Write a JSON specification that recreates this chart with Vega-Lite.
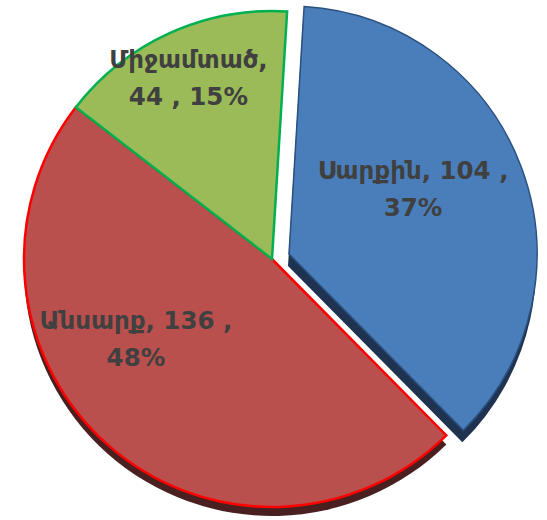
{
  "$schema": "https://vega.github.io/schema/vega-lite/v6.json",
  "autosize": {"type": "fit", "contains": "padding"},
  "width": 547,
  "height": 520,
  "padding": {"left": 0, "top": 0, "right": 3, "bottom": 2},
  "background": "white",
  "config": {"view": {"stroke": null}},
  "data": {
    "values": [
      {"name": "Սարքին", "value": 104, "label": "Սարքին, 104 ,\n37%"},
      {"name": "Անսարք", "value": 136, "label": "Անսարք, 136 ,\n48%"},
      {"name": "Միջամտած", "value": 44, "label": "Միջամտած,\n44 , 15%"}
    ]
  },
  "encoding": {
    "theta": {"field": "value", "type": "quantitative", "stack": true, "scale": {"range": [2.362, 8.645]}},
    "order": {"field": "name", "sort": "ascending"}
  },
  "layer": [
    {
      "mark": {"type": "arc", "outerRadius": 248, "yOffset": 9, "fill": "#4a1f1f", "stroke": null},
      "encoding": {"opacity": {"condition": {"test": "datum.name === 'Անսարք'", "value": 1}, "value": 0}}
    },
    {
      "mark": {"type": "arc", "outerRadius": 248, "xOffset": 16, "yOffset": 7, "fill": "#1f3350", "stroke": null},
      "encoding": {"opacity": {"condition": {"test": "datum.name === 'Սարքին'", "value": 1}, "value": 0}}
    },
    {
      "mark": {"type": "arc", "outerRadius": 248, "strokeWidth": 2.5},
      "encoding": {
        "color": {"field": "name", "type": "nominal", "legend": null, "scale": {"domain": ["Սարքին", "Անսարք", "Միջամտած"], "range": ["#4a7eba", "#b9504d", "#9bbb59"]}},
        "stroke": {"field": "name", "type": "nominal", "legend": null, "scale": {"domain": ["Սարքին", "Անսարք", "Միջամտած"], "range": ["#2a5080", "#ff0000", "#00b050"]}},
        "opacity": {"condition": {"test": "datum.name === 'Սարքին'", "value": 0}, "value": 1}
      }
    },
    {
      "mark": {"type": "arc", "outerRadius": 248, "xOffset": 17, "yOffset": -5, "fill": "#4a7eba", "stroke": "#2a5080", "strokeWidth": 1.5},
      "encoding": {"opacity": {"condition": {"test": "datum.name === 'Սարքին'", "value": 1}, "value": 0}}
    },
    {
      "mark": {"type": "text", "radius": 140, "dx": 10, "dy": -38, "font": "DejaVu Sans", "fontWeight": "bold", "fontSize": 24.5, "lineHeight": 37, "lineBreak": "\n", "align": "center", "baseline": "middle", "fill": "#404040"},
      "encoding": {
        "text": {"condition": {"test": "datum.name === 'Սարքին'", "field": "label"}, "value": ""}
      }
    },
    {
      "mark": {"type": "text", "radius": 160, "dx": -30, "dy": -57, "font": "DejaVu Sans", "fontWeight": "bold", "fontSize": 24.5, "lineHeight": 37, "lineBreak": "\n", "align": "center", "baseline": "middle", "fill": "#404040"},
      "encoding": {
        "text": {"condition": {"test": "datum.name === 'Անսարք'", "field": "label"}, "value": ""}
      }
    },
    {
      "mark": {"type": "text", "radius": 200, "dx": -1, "dy": -16, "font": "DejaVu Sans", "fontWeight": "bold", "fontSize": 24.5, "lineHeight": 37, "lineBreak": "\n", "align": "center", "baseline": "middle", "fill": "#404040"},
      "encoding": {
        "text": {"condition": {"test": "datum.name === 'Միջամտած'", "field": "label"}, "value": ""}
      }
    }
  ]
}
